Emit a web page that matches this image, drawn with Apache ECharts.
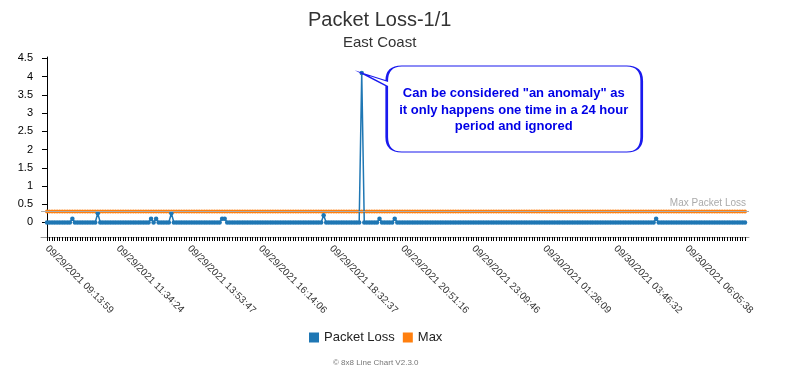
<!DOCTYPE html>
<html>
<head>
<meta charset="utf-8">
<script src="https://cdn.jsdelivr.net/npm/echarts@6/dist/echarts.min.js"></script>
<style>html,body{margin:0;padding:0;background:#fff}#c{width:792px;height:374px}</style>
</head>
<body>
<div id="c"></div>
<script>
// Tick labels shown on the x axis (every 28th sample)
var tickLabels = [
  '09/29/2021 09:13:59', '09/29/2021 11:34:24', '09/29/2021 13:53:47',
  '09/29/2021 16:14:06', '09/29/2021 18:32:37', '09/29/2021 20:51:16',
  '09/29/2021 23:09:46', '09/30/2021 01:28:09', '09/30/2021 03:46:32',
  '09/30/2021 06:05:38'
];
var labelEvery = 28;

// Packet Loss samples (rows of 28)
var packetLoss = [
  0,0,0,0,0,0,0, 0,0,0,0.1,0,0,0, 0,0,0,0,0,0,0.25, 0,0,0,0,0,0,0,
  0,0,0,0,0,0,0, 0,0,0,0,0,0,0.1, 0,0.1,0,0,0,0,0, 0.25,0,0,0,0,0,0,
  0,0,0,0,0,0,0, 0,0,0,0,0,0,0.1, 0.1,0,0,0,0,0,0, 0,0,0,0,0,0,0,
  0,0,0,0,0,0,0, 0,0,0,0,0,0,0, 0,0,0,0,0,0,0, 0,0,0,0,0.2,0,0,
  0,0,0,0,0,0,0, 0,0,0,0,0,4.1,0, 0,0,0,0,0,0.1,0, 0,0,0,0,0.1,0,0,
  0,0,0,0,0,0,0, 0,0,0,0,0,0,0, 0,0,0,0,0,0,0, 0,0,0,0,0,0,0,
  0,0,0,0,0,0,0, 0,0,0,0,0,0,0, 0,0,0,0,0,0,0, 0,0,0,0,0,0,0,
  0,0,0,0,0,0,0, 0,0,0,0,0,0,0, 0,0,0,0,0,0,0, 0,0,0,0,0,0,0,
  0,0,0,0,0,0,0, 0,0,0,0,0,0,0, 0,0,0.1,0,0,0,0, 0,0,0,0,0,0,0,
  0,0,0,0,0,0,0, 0,0,0,0,0,0,0, 0,0,0,0,0,0,0, 0,0,0
];

// Max threshold samples (rows of 28)
var maxValues = [
  0.3,0.3,0.3,0.3,0.3,0.3,0.3,0.3,0.3,0.3,0.3,0.3,0.3,0.3,0.3,0.3,0.3,0.3,0.3,0.3,0.3,0.3,0.3,0.3,0.3,0.3,0.3,0.3,
  0.3,0.3,0.3,0.3,0.3,0.3,0.3,0.3,0.3,0.3,0.3,0.3,0.3,0.3,0.3,0.3,0.3,0.3,0.3,0.3,0.3,0.3,0.3,0.3,0.3,0.3,0.3,0.3,
  0.3,0.3,0.3,0.3,0.3,0.3,0.3,0.3,0.3,0.3,0.3,0.3,0.3,0.3,0.3,0.3,0.3,0.3,0.3,0.3,0.3,0.3,0.3,0.3,0.3,0.3,0.3,0.3,
  0.3,0.3,0.3,0.3,0.3,0.3,0.3,0.3,0.3,0.3,0.3,0.3,0.3,0.3,0.3,0.3,0.3,0.3,0.3,0.3,0.3,0.3,0.3,0.3,0.3,0.3,0.3,0.3,
  0.3,0.3,0.3,0.3,0.3,0.3,0.3,0.3,0.3,0.3,0.3,0.3,0.3,0.3,0.3,0.3,0.3,0.3,0.3,0.3,0.3,0.3,0.3,0.3,0.3,0.3,0.3,0.3,
  0.3,0.3,0.3,0.3,0.3,0.3,0.3,0.3,0.3,0.3,0.3,0.3,0.3,0.3,0.3,0.3,0.3,0.3,0.3,0.3,0.3,0.3,0.3,0.3,0.3,0.3,0.3,0.3,
  0.3,0.3,0.3,0.3,0.3,0.3,0.3,0.3,0.3,0.3,0.3,0.3,0.3,0.3,0.3,0.3,0.3,0.3,0.3,0.3,0.3,0.3,0.3,0.3,0.3,0.3,0.3,0.3,
  0.3,0.3,0.3,0.3,0.3,0.3,0.3,0.3,0.3,0.3,0.3,0.3,0.3,0.3,0.3,0.3,0.3,0.3,0.3,0.3,0.3,0.3,0.3,0.3,0.3,0.3,0.3,0.3,
  0.3,0.3,0.3,0.3,0.3,0.3,0.3,0.3,0.3,0.3,0.3,0.3,0.3,0.3,0.3,0.3,0.3,0.3,0.3,0.3,0.3,0.3,0.3,0.3,0.3,0.3,0.3,0.3,
  0.3,0.3,0.3,0.3,0.3,0.3,0.3,0.3,0.3,0.3,0.3,0.3,0.3,0.3,0.3,0.3,0.3,0.3,0.3,0.3,0.3,0.3,0.3,0.3
];

var maxLineValue = 0.3;
var yTicks = [0, 0.5, 1, 1.5, 2, 2.5, 3, 3.5, 4, 4.5];
var annotation = 'Can be considered "an anomaly" as\nit only happens one time in a 24 hour\nperiod and ignored';

var FONT = '"Liberation Sans", Arial, Helvetica, sans-serif';

var lossData = packetLoss.map(function (v, i) { return [i, v]; });
var maxData = maxValues.map(function (v, i) { return [i, v]; });
var labelPositions = tickLabels.map(function (_, k) { return k * labelEvery; });
var tickPositions = packetLoss.map(function (_, i) { return i; });

var chart = echarts.init(document.getElementById('c'), null, { renderer: 'canvas' });
chart.setOption({
  animation: false,
  backgroundColor: '#fff',
  title: [
    { text: 'Packet Loss-1/1', left: 303, top: 5,
      textStyle: { fontFamily: FONT, fontSize: 20, fontWeight: 'normal', color: '#333' } },
    { text: 'East Coast', left: 338, top: 30,
      textStyle: { fontFamily: FONT, fontSize: 15, fontWeight: 'normal', color: '#333' } },
    { text: '\u00a9 8x8 Line Chart V2.3.0', left: 328, top: 354,
      textStyle: { fontFamily: FONT, fontSize: 8, fontWeight: 'normal', color: '#777' } }
  ],
  legend: {
    data: ['Packet Loss', 'Max'],
    left: 304, top: 326,
    icon: 'rect', itemWidth: 10, itemHeight: 10, itemGap: 8,
    textStyle: { fontFamily: FONT, fontSize: 13, color: '#222' }
  },
  grid: { left: 41, right: 43, top: 57, bottom: 137, containLabel: false },
  xAxis: {
    type: 'value',
    min: -2.36, max: 276.58,
    splitLine: { show: false },
    axisLine: { show: true, onZero: false, lineStyle: { color: '#999', width: 1 } },
    axisTick: { show: true, length: 4, customValues: tickPositions, lineStyle: { color: '#000', width: 1 } },
    axisLabel: {
      show: true, customValues: labelPositions, rotate: -45, margin: 10,
      fontFamily: FONT, fontSize: 10, color: '#333',
      formatter: function (v) { return tickLabels[Math.round(v / labelEvery)] || ''; }
    }
  },
  yAxis: {
    type: 'value',
    min: -0.4, max: 4.54,
    splitLine: { show: false },
    axisLine: { show: true, lineStyle: { color: '#000', width: 1 } },
    axisTick: { show: true, length: 5, customValues: yTicks, lineStyle: { color: '#000' } },
    axisLabel: { show: true, customValues: yTicks, margin: 8, fontFamily: FONT, fontSize: 11, color: '#000' }
  },
  series: [
    {
      name: 'Max', type: 'line', data: maxData,
      symbol: 'circle', symbolSize: 4, showSymbol: true, showAllSymbol: true,
      itemStyle: { color: '#ff7f0e' }, lineStyle: { color: '#ff7f0e', width: 1.5 },
      silent: true, z: 2,
      markLine: {
        silent: true, symbol: 'none',
        lineStyle: { color: '#aaa', type: 'solid', width: 1 },
        label: { show: true, position: 'insideEndTop', formatter: 'Max Packet Loss',
          fontFamily: FONT, fontSize: 10, color: '#aaa', distance: 3 },
        data: [{ yAxis: maxLineValue }]
      }
    },
    {
      name: 'Packet Loss', type: 'line', data: lossData,
      symbol: 'circle', symbolSize: 4.5, showSymbol: true, showAllSymbol: true,
      itemStyle: { color: '#1f77b4' }, lineStyle: { color: '#1f77b4', width: 1.5 },
      silent: true, z: 3,
      markPoint: {
        silent: true,
        symbol: 'path://M40,0 L265,0 Q280,0 280,15 L280,71 Q280,86 265,86 L40,86 Q25,86 25,71 L25,20 L0,7 L25,15 Q25,0 40,0 Z',
        symbolSize: [280, 86], symbolKeepAspect: false,
        symbolOffset: [140, 36],
        itemStyle: { color: '#fff', borderColor: '#1a1aee', borderWidth: 1.5 },
        label: {
          show: true, position: 'inside', offset: [12, 1],
          formatter: annotation,
          fontFamily: FONT, fontSize: 13, fontWeight: 'bold', lineHeight: 16.5,
          color: '#0000e6', align: 'center'
        },
        data: [{ type: 'max' }]
      }
    }
  ]
});
</script>
</body>
</html>
